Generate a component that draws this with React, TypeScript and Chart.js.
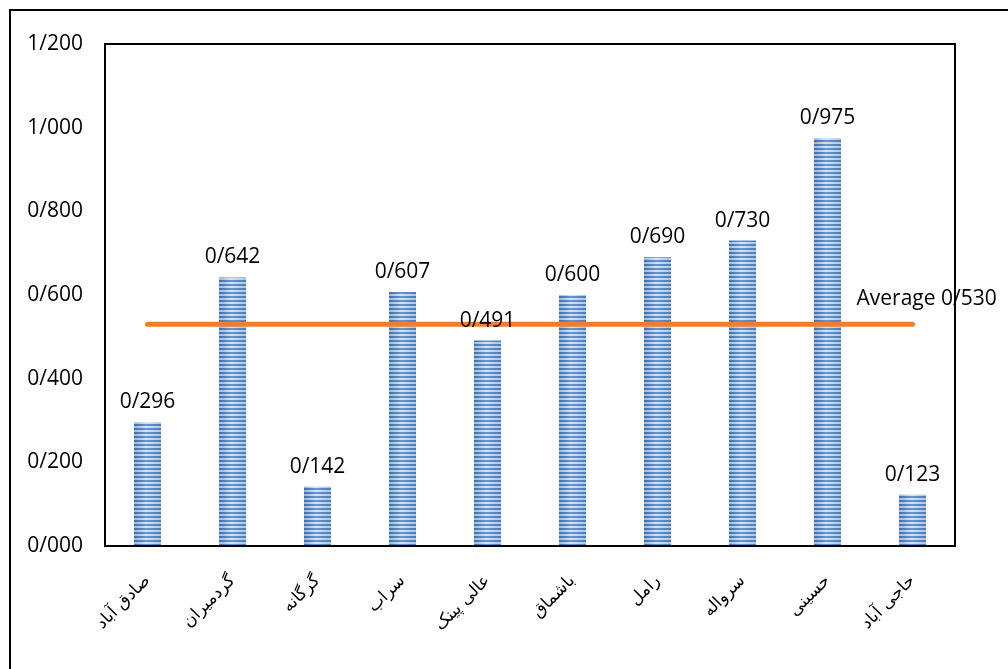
import React, { useEffect, useRef } from "react";
import { Chart, registerables } from "chart.js";

Chart.register(...registerables);

const categories = [
  "صادق آباد",
  "گردمیران",
  "گرگانه",
  "سراب",
  "عالی پینک",
  "باشماق",
  "رامل",
  "سرواله",
  "حسینی",
  "حاجی آباد",
];
const values = [0.296, 0.642, 0.142, 0.607, 0.491, 0.6, 0.69, 0.73, 0.975, 0.123];
const averageValue = 0.53;
const averageLine = [0.53, 0.53, 0.53, 0.53, 0.53, 0.53, 0.53, 0.53, 0.53, 0.53];
const yMin = 0;
const yMax = 1.2;
const yStep = 0.2;

const fmt = (v: number) => v.toFixed(3).replace(".", "/");

const BAR_W = 27;

function makeTile(): HTMLCanvasElement {
  const c = document.createElement("canvas");
  c.width = BAR_W;
  c.height = 4;
  const g = c.getContext("2d")!;
  const dark = g.createLinearGradient(0, 0, BAR_W, 0);
  dark.addColorStop(0, "#3f70ae");
  dark.addColorStop(0.45, "#6596d0");
  dark.addColorStop(1, "#4a7cba");
  const light = g.createLinearGradient(0, 0, BAR_W, 0);
  light.addColorStop(0, "#9bb9de");
  light.addColorStop(0.45, "#d3e3f5");
  light.addColorStop(1, "#abc6e6");
  g.fillStyle = dark;
  g.fillRect(0, 0, BAR_W, 2);
  g.fillStyle = light;
  g.fillRect(0, 2, BAR_W, 2);
  return c;
}

export default function App() {
  const ref = useRef<HTMLCanvasElement | null>(null);

  useEffect(() => {
    if (!ref.current) return;
    const tile = makeTile();

    const framePlugin = {
      id: "frame",
      afterDatasetsDraw(chart: any) {
        const { ctx, chartArea } = chart;
        ctx.save();
        ctx.strokeStyle = "#000";
        ctx.lineWidth = 2;
        ctx.strokeRect(chartArea.left, chartArea.top, chartArea.right - chartArea.left, chartArea.bottom - chartArea.top);
        ctx.restore();
      },
      afterDraw(chart: any) {
        const { ctx } = chart;
        ctx.save();
        ctx.font = '21px "Open Sans"';
        ctx.fillStyle = "#000";
        ctx.textAlign = "center";
        ctx.textBaseline = "alphabetic";
        const barMeta = chart.getDatasetMeta(1);
        barMeta.data.forEach((el: any, i: number) => {
          ctx.fillText(fmt(values[i]), el.x, el.y - 14);
        });
        const lineMeta = chart.getDatasetMeta(0);
        const last = lineMeta.data[lineMeta.data.length - 1];
        ctx.textAlign = "left";
        ctx.fillText("Average " + fmt(averageValue), last.x - 56, last.y - 19);
        ctx.restore();
      },
    };

    const chart = new Chart(ref.current, {
      type: "bar",
      data: {
        labels: categories,
        datasets: [
          {
            type: "line",
            data: averageLine,
            borderColor: "#ED7D31",
            borderWidth: 5,
            borderCapStyle: "round",
            pointRadius: 0,
            fill: false,
            order: 0,
          } as any,
          {
            type: "bar",
            data: values,
            order: 1,
            categoryPercentage: 1,
            barPercentage: BAR_W / 85,
            borderWidth: 0,
            backgroundColor: (c: any) => {
              const xs = c.chart.scales?.x;
              if (!xs || c.dataIndex == null) return "#7aa3d6";
              const cx = xs.getPixelForValue(c.dataIndex);
              const pat = c.chart.ctx.createPattern(tile, "repeat");
              if (!pat) return "#7aa3d6";
              pat.setTransform(new DOMMatrix().translate(cx - BAR_W / 2, 0));
              return pat;
            },
          },
        ],
      },
      options: {
        animation: false,
        responsive: false,
        devicePixelRatio: 1,
        layout: { padding: { left: 0, top: 44, right: 53, bottom: 0 } },
        plugins: {
          legend: { display: false },
          tooltip: { enabled: false },
        },
        scales: {
          x: {
            grid: { display: false, drawTicks: false },
            border: { display: false },
            ticks: {
              font: { family: '"DejaVu Sans"', size: 17 },
              color: "#000",
              minRotation: 45,
              maxRotation: 45,
              padding: 25,
              autoSkip: false,
            },
            afterFit: (s: any) => {
              s.height = 123;
            },
          },
          y: {
            min: yMin,
            max: yMax,
            grid: { display: false, drawTicks: false },
            border: { display: false },
            ticks: {
              stepSize: yStep,
              font: { family: '"Open Sans"', size: 21 },
              color: "#000",
              padding: 22,
              callback: (v: any) => fmt(Number(v)),
            },
            afterFit: (s: any) => {
              s.width = 105;
            },
          },
        },
      },
      plugins: [framePlugin],
    } as any);

    return () => chart.destroy();
  }, []);

  return (
    <div style={{ position: "fixed", left: 0, top: 0, width: 1008, height: 669, overflow: "hidden", background: "#fff" }}>
      <div
        style={{
          position: "absolute",
          left: 9,
          top: 9,
          width: 1100,
          height: 800,
          borderLeft: "2px solid #000",
          borderTop: "2px solid #000",
        }}
      />
      <canvas ref={ref} width={1008} height={669} style={{ position: "absolute", left: 0, top: 0 }} />
    </div>
  );
}
